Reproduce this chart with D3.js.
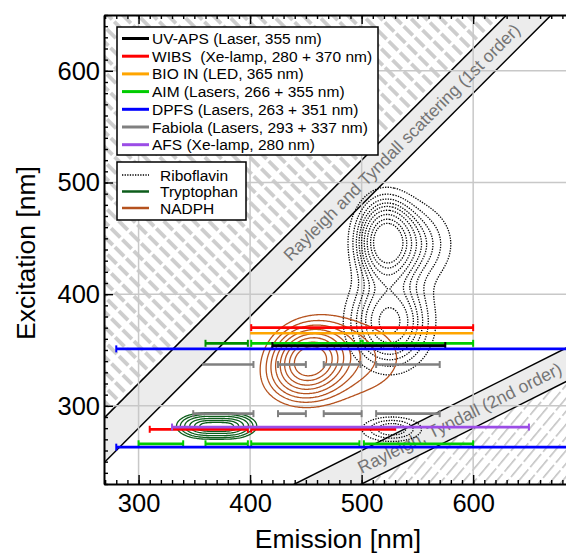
<!DOCTYPE html>
<html>
<head>
<script src="https://d3js.org/d3.v7.min.js"></script>
<style>
  body { margin: 0; background: #fff; }
  svg { display: block; }
  svg text { font-family: Arial, "Liberation Sans", Helvetica, sans-serif; }
</style>
</head>
<body>
<svg id="chart" width="566" height="554"></svg>
<script>
// ---- legend / instruments ----
const instKeys   = ["UV-APS", "WIBS", "BIO IN", "AIM", "DPFS", "Fabiola", "AFS"];
const instLabels = ["UV-APS (Laser, 355 nm)", "WIBS  (Xe-lamp, 280 + 370 nm)", "BIO IN (LED, 365 nm)",
                    "AIM (Lasers, 266 + 355 nm)", "DPFS (Lasers, 263 + 351 nm)",
                    "Fabiola (Lasers, 293 + 337 nm)", "AFS (Xe-lamp, 280 nm)"];
const instColors = ["#000000", "#ff0000", "#ffa500", "#00cc00", "#0000ff", "#808080", "#9b4de6"];

// detection bands: instrument, excitation, emission from, emission to, left cap, right cap
const segments = [
  ["WIBS",    370, 401, 600, 1, 1],
  ["BIO IN",  365, 400, 600, 0, 0],
  ["AIM-d",   356, 360, 398, 1, 1],
  ["AIM",     356, 401, 499, 1, 1],
  ["AIM",     356, 501, 600, 1, 1],
  ["UV-APS",  354, 420, 575, 1, 1],
  ["DPFS",    351, 280, 700, 1, 0],
  ["Fabiola", 337, 357, 403, 0, 1],
  ["Fabiola", 337, 425, 450, 1, 1],
  ["Fabiola", 337, 466, 499, 1, 1],
  ["Fabiola", 337, 513, 570, 1, 1],
  ["Fabiola", 293, 349, 403, 1, 1],
  ["Fabiola", 293, 425, 450, 1, 1],
  ["Fabiola", 293, 466, 500, 1, 1],
  ["Fabiola", 293, 513, 570, 1, 1],
  ["WIBS",    279, 310, 398, 1, 1],
  ["WIBS",    279, 401, 531, 1, 0],
  ["AFS",     281, 330, 650, 1, 1],
  ["AIM",     266, 300, 340, 1, 1],
  ["AIM",     266, 360, 398, 1, 1],
  ["AIM",     266, 401, 498, 1, 1],
  ["AIM",     266, 502, 600, 1, 1],
  ["DPFS",    263, 280, 700, 1, 0]
];

// ---- fluorophores: peaks [em, ex, sigmaEm, sigmaEx, rho, amplitude] and contour levels ----
const fluorNames  = ["Riboflavin", "Tryptophan", "NADPH"];
const fluorColors = ["#000000", "#0d5d1b", "#b5521e"];
const riboPeaks = [[521, 447, 15, 22, 0, 1.0], [545, 445, 22, 22, 0, 0.35],
                   [525, 375, 21, 24, 0, 0.7], [527, 279, 17, 7, 0, 0.34]];
const riboLevels = [0.1, 0.18, 0.26, 0.34, 0.42, 0.52, 0.64, 0.78, 0.9];
const tryPeaks = [[358, 282, 12, 5.7, 0, 0.82], [382, 282, 12, 5.7, 0, 0.82]];
const tryLevels = [0.112, 0.19, 0.316, 0.5, 0.69, 0.856];
const nadPeaks = [[453, 341, 19, 17, 0.1, 1.0], [490, 343, 35, 25, 0, 0.2], [445, 320, 22, 14, 0, 0.12]];
const nadLevels = [0.1, 0.17, 0.25, 0.35, 0.47, 0.6, 0.75, 0.9];

// ---- scattering bands: order, lower offset, upper offset (ex = em / order + offset) ----
const scatter = [[1, -20, 20], [2, -20, 10]];
const scatterLabels = ["Rayleigh and Tyndall scattering (1st order)", "Rayleigh, Tyndall (2nd order)"];
const scatterLabelEm = [536, 588];

// ---- axes ----
const xMajor = [300, 400, 500, 600];
const yMajor = [300, 400, 500, 600];
const xMinor = d3.range(270, 691, 10);
const yMinor = d3.range(230, 651, 10);

const svg = d3.select("#chart");
const W = 566;
const pLeft = 104, pTop = 15, pBottom = 484;
const x = d3.scaleLinear().domain([269, 690]).range([pLeft, pLeft + 421 * 1.1153]);
const y = d3.scaleLinear().domain([230, 650]).range([pBottom, pTop]);

const defs = svg.append("defs");
defs.append("clipPath").attr("id", "plotclip")
  .append("rect").attr("x", pLeft).attr("y", pTop).attr("width", W - pLeft).attr("height", pBottom - pTop);

const pA = defs.append("pattern").attr("id", "hatchA")
  .attr("patternUnits", "userSpaceOnUse").attr("width", 10.6).attr("height", 16)
  .attr("patternTransform", "rotate(-45)");
pA.append("rect").attr("x", 0).attr("y", 0).attr("width", 3.8).attr("height", 13).attr("fill", "#cdcdcd");

const pB = defs.append("pattern").attr("id", "hatchB")
  .attr("patternUnits", "userSpaceOnUse").attr("width", 8.4).attr("height", 20)
  .attr("patternTransform", "rotate(40)");
pB.append("rect").attr("x", 0).attr("y", 0).attr("width", 1.6).attr("height", 17).attr("fill", "#c4c4c4");

const plot = svg.append("g").attr("clip-path", "url(#plotclip)");
const dline = d3.line().x(d => x(d[0])).y(d => y(d[1]));

// hatched forbidden regions
const emA = [150, 900];
const up = scatter[0];
plot.append("path")
  .attr("d", dline([[emA[0], emA[0] / up[0] + up[2]], [emA[1], emA[1] / up[0] + up[2]], [emA[0], 2000]]) + "Z")
  .attr("fill", "url(#hatchA)");
const lo = scatter[1];
plot.append("path")
  .attr("d", dline([[emA[0], emA[0] / lo[0] + lo[1]], [emA[1] * 2, emA[1] * 2 / lo[0] + lo[1]], [emA[1] * 2, 0]]) + "Z")
  .attr("fill", "url(#hatchB)");

// scattering bands
scatter.forEach(([k, a, b], i) => {
  const lower = [[emA[0], emA[0] / k + a], [emA[1] * k, emA[1] + a]];
  const upper = [[emA[0], emA[0] / k + b], [emA[1] * k, emA[1] + b]];
  plot.append("path").attr("d", dline(lower.concat(upper.slice().reverse())) + "Z").attr("fill", "#ececec");
  plot.append("path").attr("d", dline(lower)).attr("fill", "none").attr("stroke", "#000").attr("stroke-width", 1.5);
  plot.append("path").attr("d", dline(upper)).attr("fill", "none").attr("stroke", "#000").attr("stroke-width", 1.5);
});

// grid
plot.append("g").selectAll("line").data(xMajor).join("line")
  .attr("x1", d => x(d)).attr("x2", d => x(d)).attr("y1", pTop).attr("y2", pBottom)
  .attr("stroke", "#c8c8c8").attr("stroke-width", 1.5);
plot.append("g").selectAll("line").data(yMajor).join("line")
  .attr("y1", d => y(d)).attr("y2", d => y(d)).attr("x1", pLeft).attr("x2", W)
  .attr("stroke", "#c8c8c8").attr("stroke-width", 1.5);

// band labels
scatter.forEach(([k, a, b], i) => {
  const em = scatterLabelEm[i];
  const ex = em / k + (a + b) / 2;
  const ang = Math.atan2(y(ex + 50 / k) - y(ex), x(em + 50) - x(em)) * 180 / Math.PI;
  plot.append("text")
    .attr("transform", `translate(${x(em)},${y(ex)}) rotate(${ang})`)
    .attr("text-anchor", "middle").attr("dominant-baseline", "central")
    .attr("font-size", i === 0 ? 17.4 : 17.6).attr("fill", "#747474")
    .text(scatterLabels[i]);
});

// contours
const em0 = 269, ex0 = 230, nx = 422, ny = 421;
function density(peaks, em, ex) {
  let s = 0;
  for (const [cx, cy, sx, sy, r, a] of peaks) {
    const u = (em - cx) / sx, v = (ex - cy) / sy;
    s += a * Math.exp(-(u * u - 2 * r * u * v + v * v) / (2 * (1 - r * r)));
  }
  return s;
}
const gridPath = d3.geoPath(d3.geoTransform({
  point: function (px, py) { this.stream.point(x(em0 + px - 0.5), y(ex0 + py - 0.5)); }
}));
[[riboPeaks, riboLevels, 0], [tryPeaks, tryLevels, 1], [nadPeaks, nadLevels, 2]].forEach(([peaks, levels, i]) => {
  const vals = new Float64Array(nx * ny);
  for (let j = 0; j < ny; j++)
    for (let k = 0; k < nx; k++) vals[j * nx + k] = density(peaks, em0 + k, ex0 + j);
  const cs = d3.contours().size([nx, ny]).thresholds(levels)(vals);
  plot.append("g").selectAll("path").data(cs).join("path")
    .attr("d", gridPath)
    .attr("fill", "none")
    .attr("stroke", fluorColors[i])
    .attr("stroke-width", 1.3)
    .attr("stroke-dasharray", i === 0 ? "1.3,1.3" : null);
});

// detection bars
const barColor = d3.scaleOrdinal().domain(instKeys.concat(["AIM-d"])).range(instColors.concat(["#008f00"]));
const bars = plot.append("g");
segments.forEach(([key, ex, a, b, cl, cr]) => {
  const c = barColor(key);
  bars.append("line").attr("x1", x(a)).attr("x2", x(b)).attr("y1", y(ex)).attr("y2", y(ex))
    .attr("stroke", c).attr("stroke-width", 2.7);
  [[cl, a], [cr, b]].forEach(([on, e]) => {
    if (on) bars.append("line").attr("x1", x(e)).attr("x2", x(e)).attr("y1", y(ex) - 3.5).attr("y2", y(ex) + 3.5)
      .attr("stroke", c).attr("stroke-width", 2);
  });
});

// axes
function styleAxis(g) {
  g.selectAll(".tick line").attr("stroke", "#000").attr("stroke-width", 1.4);
  g.select(".domain").attr("stroke", "#000").attr("stroke-width", 2);
  g.selectAll("text").attr("font-size", 25.5).attr("fill", "#000")
    .attr("font-family", 'Arial, "Liberation Sans", Helvetica, sans-serif');
}
svg.append("g").attr("transform", `translate(0,${pBottom})`)
  .call(d3.axisBottom(x).tickValues(xMinor).tickSize(-4).tickFormat("")).call(g => g.select(".domain").remove()).call(styleAxis);
svg.append("g").attr("transform", `translate(0,${pTop})`)
  .call(d3.axisTop(x).tickValues(xMinor).tickSize(-4).tickFormat("")).call(g => g.select(".domain").remove()).call(styleAxis);
svg.append("g").attr("transform", `translate(${pLeft},0)`)
  .call(d3.axisLeft(y).tickValues(yMinor).tickSize(-4).tickFormat("")).call(g => g.select(".domain").remove()).call(styleAxis);
svg.append("g").attr("transform", `translate(0,${pBottom})`)
  .call(d3.axisBottom(x).tickValues(xMajor).tickSize(-9).tickSizeOuter(0).tickPadding(10)).call(styleAxis);
svg.append("g").attr("transform", `translate(0,${pTop})`)
  .call(d3.axisTop(x).tickValues(xMajor).tickSize(-9).tickSizeOuter(0).tickFormat("")).call(styleAxis);
svg.append("g").attr("transform", `translate(${pLeft},0)`)
  .call(d3.axisLeft(y).tickValues(yMajor).tickSize(-9).tickSizeOuter(0).tickPadding(4)).call(styleAxis);

svg.append("text").attr("x", 338).attr("y", 548).attr("text-anchor", "middle")
  .attr("font-size", 26.5).text("Emission [nm]");
svg.append("text").attr("transform", "translate(35,253) rotate(-90)").attr("text-anchor", "middle")
  .attr("font-size", 26.5).text("Excitation [nm]");

// legends
const leg1 = svg.append("g");
leg1.append("rect").attr("x", 117).attr("y", 27).attr("width", 261).attr("height", 128)
  .attr("fill", "#fff").attr("stroke", "#000").attr("stroke-width", 1.5);
instLabels.forEach((t, i) => {
  const yy = 38.5 + i * 17.7;
  leg1.append("line").attr("x1", 122).attr("x2", 149).attr("y1", yy).attr("y2", yy)
    .attr("stroke", instColors[i]).attr("stroke-width", 3);
  leg1.append("text").attr("x", 152).attr("y", yy).attr("dominant-baseline", "central")
    .attr("font-size", 15.5).style("white-space", "pre").text(t);
});
const leg2 = svg.append("g");
leg2.append("rect").attr("x", 117).attr("y", 162).attr("width", 129).attr("height", 58)
  .attr("fill", "#fff").attr("stroke", "#000").attr("stroke-width", 1.5);
fluorNames.forEach((t, i) => {
  const yy = 175 + i * 16.5;
  leg2.append("line").attr("x1", 122).attr("x2", 149).attr("y1", yy).attr("y2", yy)
    .attr("stroke", fluorColors[i]).attr("stroke-width", i === 0 ? 1.3 : 2.5)
    .attr("stroke-dasharray", i === 0 ? "1.3,1.3" : null);
  leg2.append("text").attr("x", 160).attr("y", yy).attr("dominant-baseline", "central")
    .attr("font-size", 15.5).text(t);
});
</script>
</body>
</html>
